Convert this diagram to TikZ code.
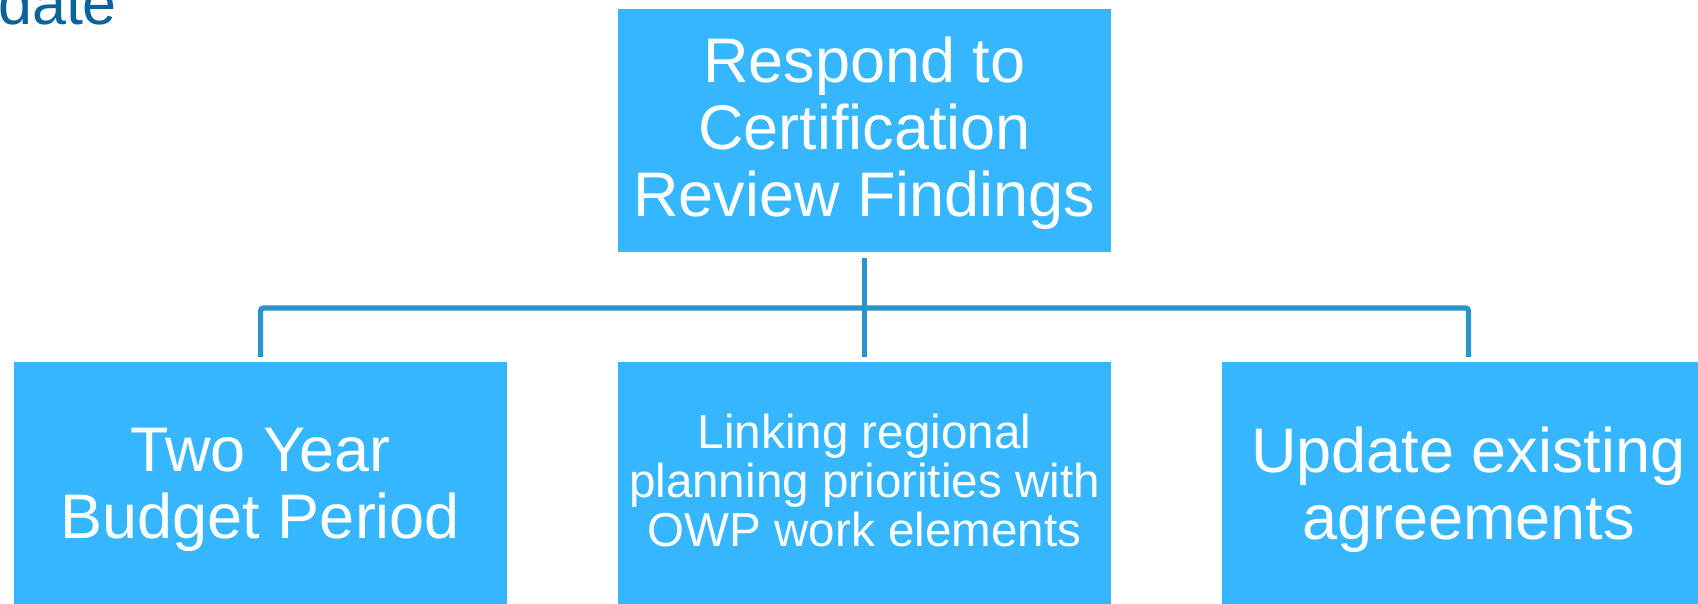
\documentclass[tikz,border=0pt]{standalone}
\usepackage{fontspec}
\setmainfont{Liberation Sans}
\definecolor{boxblue}{RGB}{53,182,254}
\definecolor{linkblue}{RGB}{42,148,203}
\definecolor{titleblue}{RGB}{10,99,153}
\begin{document}
\begin{tikzpicture}[x=1pt,y=-1pt,
  box/.style={rectangle,fill=boxblue,draw=none,minimum width=493pt,minimum height=243pt,inner sep=0pt},
  bigtxt/.style={text=white,align=center,inner sep=0pt,font=\fontsize{63}{67}\selectfont},
  midtxt/.style={text=white,align=center,inner sep=0pt,font=\fontsize{47.6}{49}\selectfont},
  conn/.style={draw=linkblue,line width=5.3pt}]
\useasboundingbox (0,0) rectangle (1698,604);
\clip (0,0) rectangle (1698,604);
\node[anchor=base west,inner sep=0pt,text=titleblue,font=\fontsize{61}{70}\selectfont] (title) at (-2,25) {date};
\node[box] (T) at (864.5,130.5) {};
\node[box] (L) at (260.5,483.5) {};
\node[box] (M) at (864.5,483.5) {};
\node[box] (R) at (1468.5,483.5) {};
\node[bigtxt] (Tt) at (864.5,133.5) {Respond to\\Certification\\Review Findings};
\node[bigtxt] (Lt) at (260.5,490) {Two Year\\Budget Period};
\node[midtxt] (Mt) at (864.5,480.5) {Linking regional\\planning priorities with\\OWP work elements};
\node[bigtxt] (Rt) at (1468.5,490) {Update existing\\agreements};
\coordinate (bus) at (864.5,308);
\draw[conn,rounded corners=3pt] ([yshift=5pt]L.north) -- (L.north |- bus) -- (R.north |- bus) -- ([yshift=5pt]R.north);
\draw[conn] ([yshift=-6pt]T.south) -- ([yshift=5pt]M.north);
\end{tikzpicture}
\end{document}
